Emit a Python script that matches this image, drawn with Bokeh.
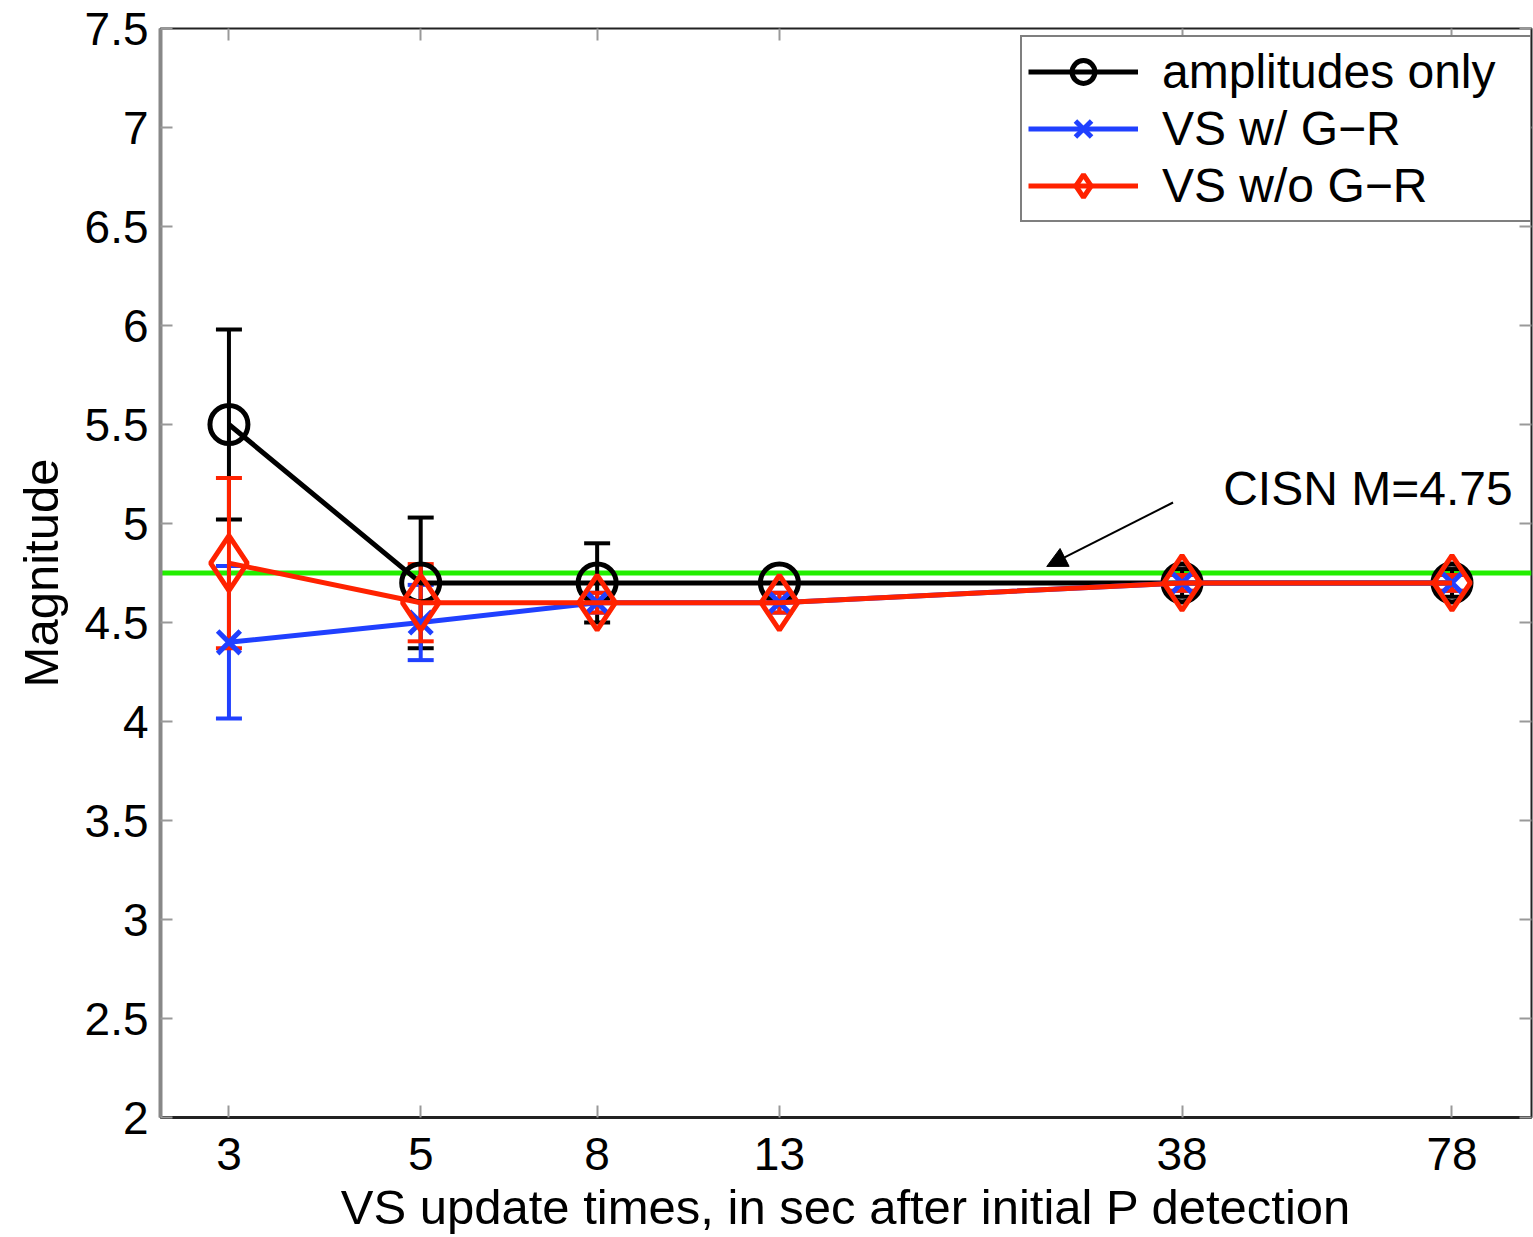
from bokeh.plotting import figure
from bokeh.models import (ColumnDataSource, FixedTicker, NumeralTickFormatter, LinearAxis, LogAxis,
                          Span, Label, Arrow, NormalHead, Whisker, TeeHead, Range1d,
                          CustomJSTickFormatter)
from bokeh.embed import file_html
from bokeh.resources import INLINE

# ---------------- data ----------------
update_times = [3, 5, 8, 13, 38, 78]
x_tick_labels = ["3", "5", "8", "13", "38", "78"]
y_ticks = [2, 2.5, 3, 3.5, 4, 4.5, 5, 5.5, 6, 6.5, 7, 7.5]

amp_only = [5.5, 4.7, 4.7, 4.7, 4.7, 4.7]
amp_only_err = [0.48, 0.33, 0.20, 0.0, 0.07, 0.07]
vs_gr = [4.4, 4.5, 4.6, 4.6, 4.7, 4.7]
vs_gr_err = [0.385, 0.19, 0.05, 0.05, 0.04, 0.04]
vs_nogr = [4.8, 4.6, 4.6, 4.6, 4.7, 4.7]
vs_nogr_err = [0.43, 0.195, 0.05, 0.05, 0.04, 0.04]
cisn_mag = 4.75
cisn_text = "CISN M=4.75"

series_names = ["amplitudes only", "VS w/ G\u2212R", "VS w/o G\u2212R"]
series_vals = [amp_only, vs_gr, vs_nogr]
series_errs = [amp_only_err, vs_gr_err, vs_nogr_err]
series_colors = ["#000000", "#2040ff", "#ff2200"]
series_markers = ["circle", "x", "diamond"]
series_sizes = [38, 32, 55]

FONT = "Liberation Sans"

p = figure(width=1533, height=1237, x_axis_type="log",
           x_range=Range1d(2.5, 96.4), y_range=Range1d(2, 7.5),
           output_backend="svg", toolbar_location=None,
           min_border_left=160, min_border_right=2, min_border_top=28, min_border_bottom=120)
p.xgrid.visible = False
p.ygrid.visible = False
p.outline_line_color = "#222222"
p.outline_line_width = 2
p.background_fill_color = "white"
p.border_fill_color = "white"

# reference line
p.add_layout(Span(location=cisn_mag, dimension="width", line_color="#22ee00",
                  line_width=5, level="underlay"))

for name, vals, errs, col, mk, sz in zip(series_names, series_vals, series_errs,
                                          series_colors, series_markers, series_sizes):
    xs = [x for x, e in zip(update_times, errs) if e > 0]
    lo = [v - e for v, e in zip(vals, errs) if e > 0]
    hi = [v + e for v, e in zip(vals, errs) if e > 0]
    wsrc = ColumnDataSource(dict(x=xs, lower=lo, upper=hi))
    p.add_layout(Whisker(base="x", lower="lower", upper="upper", source=wsrc,
                         line_color=col, line_width=4,
                         upper_head=TeeHead(size=26, line_color=col, line_width=4),
                         lower_head=TeeHead(size=26, line_color=col, line_width=4)))
    src = ColumnDataSource(dict(x=update_times, y=vals))
    p.line("x", "y", source=src, line_color=col, line_width=5, legend_label=name)
    p.scatter("x", "y", source=src, marker=mk, size=sz, line_color=col, line_width=5,
              fill_color=None, legend_label=name)

# annotation
p.add_layout(Label(x=42.4, y=5.177, text=cisn_text, text_font=FONT,
                   text_font_size="48px", text_color="black", text_baseline="alphabetic"))
p.add_layout(Arrow(x_start=37.1, y_start=5.106, x_end=26.5, y_end=4.783,
                   line_color="black", line_width=2,
                   end=NormalHead(size=20, fill_color="black", line_color="black")))

# axes
xa = p.xaxis[0]
xa.ticker = FixedTicker(ticks=update_times)
xa.major_label_overrides = {t: l for t, l in zip(update_times, x_tick_labels)}
xa.formatter = NumeralTickFormatter(format="0")
xa.axis_label = "VS update times, in sec after initial P detection"
ya = p.yaxis[0]
ya.ticker = FixedTicker(ticks=y_ticks)
ya.formatter = NumeralTickFormatter(format="0.[0]")
ya.axis_label = "Magnitude"

for ax in (xa, ya):
    ax.major_label_text_font = FONT
    ax.major_label_text_font_size = "46px"
    ax.major_label_text_color = "black"
    ax.axis_label_text_font = FONT
    ax.axis_label_text_font_size = "49px"
    ax.axis_label_text_font_style = "normal"
    ax.axis_label_text_color = "black"
    ax.major_tick_in = 12
    ax.major_tick_out = 0
    ax.major_tick_line_color = "#999999"
    ax.major_tick_line_width = 2
    ax.minor_tick_line_color = None
xa.axis_line_color = "#222222"
xa.axis_line_width = 3
xa.major_label_standoff = 20
xa.axis_label_standoff = 7
ya.axis_line_color = "#888888"
ya.axis_line_width = 4
ya.major_label_standoff = 12
ya.axis_label_standoff = 14

blank = CustomJSTickFormatter(code="return ''")
top = LogAxis(ticker=FixedTicker(ticks=update_times), formatter=blank)
right = LinearAxis(ticker=FixedTicker(ticks=y_ticks), formatter=blank)
for ax in (top, right):
    ax.major_tick_in = 12
    ax.major_tick_out = 0
    ax.major_tick_line_color = "#999999"
    ax.major_tick_line_width = 2
    ax.minor_tick_line_color = None
    ax.axis_line_color = None
    ax.major_label_standoff = 0
    ax.major_label_text_font_size = "1px"
p.add_layout(top, "above")
p.add_layout(right, "right")

# legend
lg = p.legend[0]
lg.location = (860, 895)
lg.label_text_font = FONT
lg.label_text_font_size = "48px"
lg.label_text_color = "black"
lg.border_line_color = "black"
lg.border_line_width = 2
lg.background_fill_alpha = 1
lg.padding = 6
lg.spacing = 0
lg.margin = 0
lg.glyph_width = 110
lg.glyph_height = 57
lg.label_height = 57
lg.label_standoff = 24
lg.label_width = 362

open("out.html", "w").write(file_html(p, INLINE))
